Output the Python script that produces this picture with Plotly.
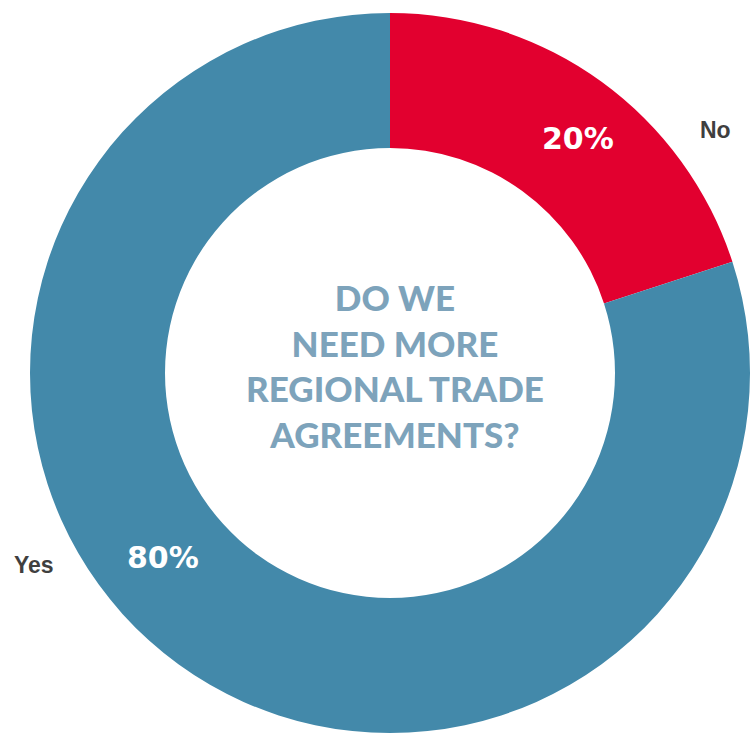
import plotly.graph_objects as go

# Survey answers
labels = ["No", "Yes"]
values = [20, 80]
colors = ["#E2002F", "#4389AA"]
question = "DO WE<br>NEED MORE<br>REGIONAL TRADE<br>AGREEMENTS?"

W, H = 750, 738


def px(x, y):
    """Convert pixel position (from top-left) to paper coordinates."""
    return x / W, 1 - y / H


# Donut geometry in pixels
cx, cy, r = 390, 373, 360
dom_x = [(cx - r) / W, (cx + r) / W]
dom_y = [1 - (cy + r) / H, 1 - (cy - r) / H]

fig = go.Figure(
    go.Pie(
        labels=labels,
        values=values,
        hole=0.625,
        sort=False,
        direction="clockwise",
        rotation=0,
        marker=dict(colors=colors, line=dict(width=0)),
        textinfo="none",
        hoverinfo="label+percent",
        domain=dict(x=dom_x, y=dom_y),
        showlegend=False,
    )
)

total = sum(values)
pct_pos = {"No": (578, 138), "Yes": (163, 557)}
name_pos = {"No": (715, 130), "Yes": (34, 565)}

annotations = []
for lab, val in zip(labels, values):
    x, y = px(*pct_pos[lab])
    annotations.append(dict(
        x=x, y=y, xref="paper", yref="paper", showarrow=False,
        text=f"{round(100 * val / total)}%",
        font=dict(family="DejaVu Sans, sans-serif", size=30,
                  color="white", weight="bold"),
        xanchor="center", yanchor="middle",
    ))
    x, y = px(*name_pos[lab])
    annotations.append(dict(
        x=x, y=y, xref="paper", yref="paper", showarrow=False,
        text=lab,
        font=dict(family="Liberation Sans, Arial, sans-serif", size=23,
                  color="#3F3F3F", weight="bold"),
        xanchor="center", yanchor="middle",
    ))

x, y = px(395, 366)
annotations.append(dict(
    x=x, y=y, xref="paper", yref="paper", showarrow=False,
    text=question,
    font=dict(family="Lato, sans-serif", size=35, color="#7DA3BB", weight=900),
    xanchor="center", yanchor="middle", align="center",
))

fig.update_layout(
    width=W, height=H,
    margin=dict(l=0, r=0, t=0, b=0),
    paper_bgcolor="white",
    plot_bgcolor="white",
    annotations=annotations,
)

fig.write_html("out.html")
